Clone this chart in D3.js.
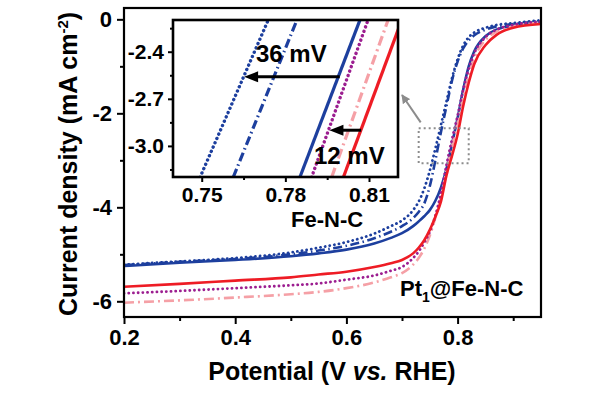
<!DOCTYPE html>
<html>
<head>
<meta charset="utf-8">
<script src="https://cdn.jsdelivr.net/npm/d3@7"></script>
<style>
  body { margin: 0; background: #fff; }
  svg text { font-family: "Liberation Sans", Arial, sans-serif; font-weight: bold; fill: #000; }
</style>
</head>
<body>
<svg id="chart" width="597" height="398"></svg>
<script>
// potentials (V vs. RHE) shared by all main curves
var potentials = [0.2, 0.3, 0.4, 0.5, 0.55, 0.6, 0.65, 0.68, 0.7, 0.72, 0.73, 0.74, 0.75, 0.76, 0.77, 0.78, 0.79, 0.8, 0.81, 0.82, 0.83, 0.85, 0.87, 0.9, 0.95];

// current density (mA cm-2)
var feDotted  = [-5.22, -5.15, -5.08, -4.96, -4.86, -4.74, -4.56, -4.4, -4.28, -4.06, -3.88, -3.6, -3.22, -2.75, -2.25, -1.75, -1.25, -0.85, -0.56, -0.38, -0.28, -0.18, -0.12, -0.08, -0.02];
var feDashDot = [-5.23, -5.16, -5.1, -5.0, -4.92, -4.82, -4.66, -4.52, -4.4, -4.23, -4.1, -3.92, -3.55, -3.0, -2.4, -1.85, -1.3, -0.9, -0.62, -0.45, -0.34, -0.22, -0.15, -0.1, -0.04];
var feSolid   = [-5.25, -5.18, -5.12, -5.04, -4.98, -4.9, -4.77, -4.65, -4.55, -4.4, -4.3, -4.19, -4.06, -3.86, -3.58, -3.18, -2.65, -2.1, -1.5, -1.0, -0.68, -0.36, -0.22, -0.13, -0.06];
var ptDashDot = [-6.03, -5.98, -5.92, -5.85, -5.8, -5.72, -5.6, -5.49, -5.4, -5.22, -5.08, -4.88, -4.6, -4.22, -3.78, -3.22, -2.7, -2.2, -1.65, -1.18, -0.82, -0.44, -0.26, -0.15, -0.07];
var ptDotted  = [-5.83, -5.78, -5.72, -5.66, -5.62, -5.54, -5.45, -5.35, -5.27, -5.08, -4.94, -4.75, -4.52, -4.18, -3.7, -3.1, -2.55, -2.05, -1.5, -1.05, -0.72, -0.38, -0.22, -0.12, -0.05];
var ptSolid   = [-5.69, -5.63, -5.56, -5.49, -5.43, -5.37, -5.27, -5.19, -5.12, -4.98, -4.86, -4.7, -4.48, -4.2, -3.88, -3.32, -2.9, -2.45, -1.85, -1.35, -0.95, -0.55, -0.33, -0.18, -0.1];

// inset: potential of each line at the bottom (-3.2) and top (-2.2) of the inset
var insetCurrents = [-3.2, -2.2];
var insetFeDotted  = [0.7494, 0.7738];
var insetFeDashDot = [0.7613, 0.7841];
var insetFeSolid   = [0.7852, 0.8067];
var insetPtDotted  = [0.7894, 0.8096];
var insetPtDashDot = [0.7966, 0.8168];
var insetPtSolid   = [0.8008, 0.8217];

// ticks
var xMajor = [0.2, 0.4, 0.6, 0.8];
var xMinor = [0.3, 0.5, 0.7, 0.9];
var yMajor = [0, -2, -4, -6];
var yMinor = [-1, -3, -5];
var insetXMajor = [0.75, 0.78, 0.81];
var insetXMinor = [0.765, 0.795];
var insetYMajor = [-2.4, -2.7, -3.0];
var insetYMinor = [-2.25, -2.55, -2.85, -3.15];

// shift annotations (from, to potential at a current)
var shifts = [
    {from: 0.7995, to: 0.7652, j: -2.56, label: "36 mV"},
    {from: 0.8072, to: 0.7958, j: -2.9, label: "12 mV"}
];
// zoom window drawn in the main plot
var zoomBox = {e0: 0.73, e1: 0.82, j0: -3.06, j1: -2.32};

var styles = {
    feDotted:  {color: "#1d3f9e", dash: "0.1 4.6", width: 2.8, cap: "round"},
    feDashDot: {color: "#1d3f9e", dash: "9 3.5 1.5 3.5", width: 2.6, cap: "butt"},
    feSolid:   {color: "#1d3f9e", dash: null, width: 2.6, cap: "butt"},
    ptDashDot: {color: "#f5a0a6", dash: "10 4 2 4", width: 2.6, cap: "butt"},
    ptDotted:  {color: "#9c1e90", dash: "0.1 4.6", width: 2.8, cap: "round"},
    ptSolid:   {color: "#ee1c25", dash: null, width: 2.6, cap: "butt"}
};

var mainSeries = [
    {key: "feDotted", values: feDotted},
    {key: "feDashDot", values: feDashDot},
    {key: "feSolid", values: feSolid},
    {key: "ptDashDot", values: ptDashDot},
    {key: "ptDotted", values: ptDotted},
    {key: "ptSolid", values: ptSolid}
];
var insetSeries = [
    {key: "feDotted", values: insetFeDotted},
    {key: "feDashDot", values: insetFeDashDot},
    {key: "feSolid", values: insetFeSolid},
    {key: "ptDashDot", values: insetPtDashDot},
    {key: "ptDotted", values: insetPtDotted},
    {key: "ptSolid", values: insetPtSolid}
];

var svg = d3.select("#chart");

// main plot
var plot = {left: 124, top: 8, right: 541, bottom: 317};
var x = d3.scaleLinear().domain([0.2, 0.95]).range([plot.left, plot.right]);
var y = d3.scaleLinear().domain([-6.334, 0.241]).range([plot.bottom, plot.top]);

svg.append("clipPath").attr("id", "mainClip")
    .append("rect")
    .attr("x", plot.left).attr("y", plot.top)
    .attr("width", plot.right - plot.left).attr("height", plot.bottom - plot.top);

var line = d3.line()
    .x(function (d) { return x(d[0]); })
    .y(function (d) { return y(d[1]); })
    .curve(d3.curveMonotoneX);

svg.append("g").attr("clip-path", "url(#mainClip)")
    .selectAll("path")
    .data(mainSeries)
    .enter()
    .append("path")
    .attr("d", function (s) {
        return line(potentials.map(function (p, i) { return [p, s.values[i]]; }));
    })
    .attr("fill", "none")
    .attr("stroke", function (s) { return styles[s.key].color; })
    .attr("stroke-width", function (s) { return styles[s.key].width; })
    .attr("stroke-dasharray", function (s) { return styles[s.key].dash; })
    .attr("stroke-linecap", function (s) { return styles[s.key].cap; });

// axes
var xAxis = d3.axisBottom(x).tickValues(xMajor).tickSize(7).tickPadding(5)
    .tickFormat(function (d) { return d.toFixed(1); });
var gx = svg.append("g").attr("transform", "translate(0," + plot.bottom + ")").call(xAxis);
var gxMinor = svg.append("g").attr("transform", "translate(0," + plot.bottom + ")")
    .call(d3.axisBottom(x).tickValues(xMinor).tickSize(4).tickFormat(""));

var yAxis = d3.axisLeft(y).tickValues(yMajor).tickSize(7).tickPadding(5)
    .tickFormat(function (d) { return d === 0 ? "0" : String(d).replace("\u2212", "-"); });
var gy = svg.append("g").attr("transform", "translate(" + plot.left + ",0)").call(yAxis);
var gyMinor = svg.append("g").attr("transform", "translate(" + plot.left + ",0)")
    .call(d3.axisLeft(y).tickValues(yMinor).tickSize(4).tickFormat(""));

[gx, gxMinor, gy, gyMinor].forEach(function (g) {
    g.select(".domain").remove();
    g.selectAll("line").attr("stroke", "#000").attr("stroke-width", 2);
    g.selectAll("text").style("font-size", "22px").attr("fill", "#000");
});

svg.append("rect")
    .attr("x", plot.left).attr("y", plot.top)
    .attr("width", plot.right - plot.left).attr("height", plot.bottom - plot.top)
    .attr("fill", "none").attr("stroke", "#000").attr("stroke-width", 2.2);

// axis titles
var xt = svg.append("text")
    .attr("x", 332).attr("y", 380)
    .attr("text-anchor", "middle")
    .style("font-size", "25px");
xt.append("tspan").text("Potential (V ");
xt.append("tspan").style("font-style", "italic").text("vs.");
xt.append("tspan").text(" RHE)");

var yt = svg.append("text")
    .attr("transform", "translate(77,164) rotate(-90)")
    .attr("text-anchor", "middle")
    .style("font-size", "25px");
yt.append("tspan").text("Current density (mA cm");
yt.append("tspan").attr("dy", -9).style("font-size", "15px").text("-2");
yt.append("tspan").attr("dy", 9).text(")");

// zoom window and pointer arrow
svg.append("rect")
    .attr("x", x(zoomBox.e0)).attr("y", y(zoomBox.j1))
    .attr("width", x(zoomBox.e1) - x(zoomBox.e0))
    .attr("height", y(zoomBox.j0) - y(zoomBox.j1))
    .attr("fill", "none").attr("stroke", "#8c8c8c").attr("stroke-width", 2)
    .attr("stroke-dasharray", "2 3");

svg.append("defs").append("marker")
    .attr("id", "grayHead")
    .attr("viewBox", "0 0 10 10").attr("refX", 9).attr("refY", 5)
    .attr("markerWidth", 4.5).attr("markerHeight", 4.5).attr("orient", "auto")
    .append("path").attr("d", "M0,0 L10,5 L0,10 z").attr("fill", "#8c8c8c");

svg.append("line")
    .attr("x1", x(zoomBox.e0) + 2).attr("y1", y(zoomBox.j1) - 6)
    .attr("x2", 402).attr("y2", 95)
    .attr("stroke", "#8c8c8c").attr("stroke-width", 2)
    .attr("marker-end", "url(#grayHead)");

// labels
svg.append("text").attr("x", 291).attr("y", 227).style("font-size", "22px").text("Fe-N-C");
var pl = svg.append("text").attr("x", 400).attr("y", 296).style("font-size", "22px");
pl.append("tspan").text("Pt");
pl.append("tspan").attr("dy", 6).style("font-size", "14px").text("1");
pl.append("tspan").attr("dy", -6).text("@Fe-N-C");

// inset
var inset = {left: 173, top: 20, right: 398, bottom: 177};
var ix = d3.scaleLinear().domain([0.7397, 0.8204]).range([inset.left, inset.right]);
var iy = d3.scaleLinear().domain([-3.198, -2.198]).range([inset.bottom, inset.top]);

svg.append("rect")
    .attr("x", inset.left).attr("y", inset.top)
    .attr("width", inset.right - inset.left).attr("height", inset.bottom - inset.top)
    .attr("fill", "#fff");

svg.append("clipPath").attr("id", "insetClip")
    .append("rect")
    .attr("x", inset.left).attr("y", inset.top)
    .attr("width", inset.right - inset.left).attr("height", inset.bottom - inset.top);

var insetLine = d3.line()
    .x(function (d) { return ix(d[0]); })
    .y(function (d) { return iy(d[1]); });

svg.append("g").attr("clip-path", "url(#insetClip)")
    .selectAll("path")
    .data(insetSeries)
    .enter()
    .append("path")
    .attr("d", function (s) {
        return insetLine(insetCurrents.map(function (j, i) { return [s.values[i], j]; }));
    })
    .attr("fill", "none")
    .attr("stroke", function (s) { return styles[s.key].color; })
    .attr("stroke-width", function (s) { return styles[s.key].width + 0.6; })
    .attr("stroke-dasharray", function (s) { return styles[s.key].dash; })
    .attr("stroke-linecap", function (s) { return styles[s.key].cap; });

var ixAxis = svg.append("g").attr("transform", "translate(0," + inset.bottom + ")")
    .call(d3.axisBottom(ix).tickValues(insetXMajor).tickSize(5).tickPadding(5)
        .tickFormat(function (d) { return d.toFixed(2); }));
var ixMinor = svg.append("g").attr("transform", "translate(0," + inset.bottom + ")")
    .call(d3.axisBottom(ix).tickValues(insetXMinor).tickSize(3).tickFormat(""));
var iyAxis = svg.append("g").attr("transform", "translate(" + inset.left + ",0)")
    .call(d3.axisLeft(iy).tickValues(insetYMajor).tickSize(5).tickPadding(4)
        .tickFormat(function (d) { return d.toFixed(1).replace("\u2212", "-"); }));
var iyMinor = svg.append("g").attr("transform", "translate(" + inset.left + ",0)")
    .call(d3.axisLeft(iy).tickValues(insetYMinor).tickSize(3).tickFormat(""));

[ixAxis, ixMinor, iyAxis, iyMinor].forEach(function (g) {
    g.select(".domain").remove();
    g.selectAll("line").attr("stroke", "#000").attr("stroke-width", 2);
    g.selectAll("text").style("font-size", "21px").attr("fill", "#000");
});

svg.append("rect")
    .attr("x", inset.left).attr("y", inset.top)
    .attr("width", inset.right - inset.left).attr("height", inset.bottom - inset.top)
    .attr("fill", "none").attr("stroke", "#000").attr("stroke-width", 2.6);

// shift arrows
shifts.forEach(function (s) {
    var x1 = ix(s.from), x2 = ix(s.to), yy = iy(s.j);
    svg.append("line")
        .attr("x1", x1).attr("y1", yy).attr("x2", x2 + 12).attr("y2", yy)
        .attr("stroke", "#000").attr("stroke-width", 3);
    svg.append("path")
        .attr("d", "M" + x2 + "," + yy + " L" + (x2 + 14) + "," + (yy - 5.5) + " L" + (x2 + 14) + "," + (yy + 5.5) + " Z")
        .attr("fill", "#000");
});

svg.append("text").attr("x", 256).attr("y", 62).style("font-size", "24px").text(shifts[0].label);
svg.append("text").attr("x", 314).attr("y", 164).style("font-size", "24px").text(shifts[1].label);
</script>
</body>
</html>
